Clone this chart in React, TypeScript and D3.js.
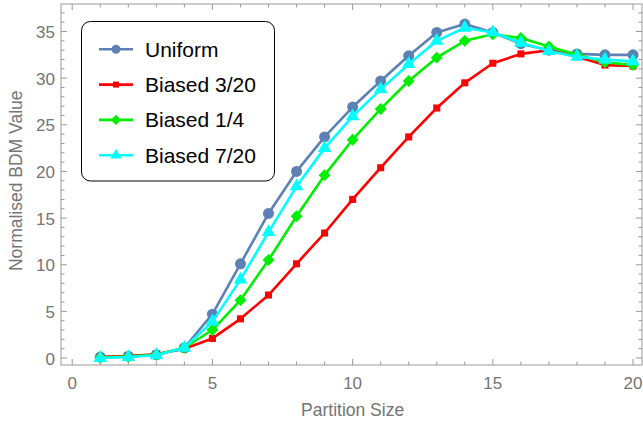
import React, { useEffect, useRef } from 'react';
import * as d3 from 'd3';

const partitionSizes = [1, 2, 3, 4, 5, 6, 7, 8, 9, 10, 11, 12, 13, 14, 15, 16, 17, 18, 19, 20];
const uniform = [0.1, 0.2, 0.35, 1.1, 4.7, 10.1, 15.5, 20.0, 23.7, 26.9, 29.7, 32.4, 34.9, 35.8, 34.9, 33.7, 33.0, 32.6, 32.5, 32.5];
const biased320 = [0.1, 0.2, 0.4, 1.0, 2.1, 4.2, 6.75, 10.1, 13.4, 17.0, 20.4, 23.7, 26.8, 29.5, 31.6, 32.6, 33.0, 32.3, 31.4, 31.3];
const biased14 = [0.05, 0.15, 0.35, 1.1, 3.0, 6.2, 10.5, 15.2, 19.6, 23.4, 26.7, 29.7, 32.2, 34.0, 34.7, 34.3, 33.4, 32.5, 31.7, 31.4];
const biased720 = [0.0, 0.1, 0.3, 1.1, 3.9, 8.4, 13.5, 18.4, 22.5, 25.9, 28.8, 31.5, 34.0, 35.4, 34.9, 33.8, 32.9, 32.3, 32.0, 31.8];
const seriesNames = ['Uniform', 'Biased 3/20', 'Biased 1/4', 'Biased 7/20'];
const xTicks = [0, 5, 10, 15, 20];
const yTicks = [0, 5, 10, 15, 20, 25, 30, 35];

const colors = ['#5E81B5', '#FF0000', '#00EE00', '#00FFFF'];
const shapes = [d3.symbolCircle, d3.symbolSquare, d3.symbolDiamond2, d3.symbolTriangle];
const sizes = [95, 50, 90, 80];
const legendSizes = [65, 36, 65, 55];

export default function App() {
  const ref = useRef<SVGSVGElement>(null);

  useEffect(() => {
    const frame = { left: 61, right: 642, top: 4, bottom: 365 };
    const svg = d3.select(ref.current);
    svg.selectAll('*').remove();

    const x = d3.scaleLinear().domain([-0.4, 20.32]).range([frame.left, frame.right]);
    const y = d3.scaleLinear().domain([-0.75, 37.95]).range([frame.bottom, frame.top]);
    const font = 'Liberation Sans, Arial, sans-serif';
    const gray = '#747474';

    // frame
    svg.append('rect')
      .attr('x', frame.left).attr('y', frame.top)
      .attr('width', frame.right - frame.left).attr('height', frame.bottom - frame.top)
      .attr('fill', 'none').attr('stroke', '#999').attr('stroke-width', 1);

    const ticks = svg.append('g').attr('stroke', '#999').attr('stroke-width', 1);
    d3.range(0, 21).forEach((v) => {
      const len = v % 5 === 0 ? 6 : 3.5;
      ticks.append('line').attr('x1', x(v)).attr('x2', x(v)).attr('y1', frame.bottom).attr('y2', frame.bottom - len);
      ticks.append('line').attr('x1', x(v)).attr('x2', x(v)).attr('y1', frame.top).attr('y2', frame.top + len);
    });
    d3.range(0, 38).forEach((v) => {
      const len = v % 5 === 0 ? 6 : 3.5;
      ticks.append('line').attr('y1', y(v)).attr('y2', y(v)).attr('x1', frame.left).attr('x2', frame.left + len);
      ticks.append('line').attr('y1', y(v)).attr('y2', y(v)).attr('x1', frame.right).attr('x2', frame.right - len);
    });

    svg.append('g').selectAll('text').data(xTicks).join('text')
      .attr('x', (d) => x(d)).attr('y', frame.bottom + 23.5)
      .attr('text-anchor', 'middle').attr('font-family', font).attr('font-size', 17)
      .attr('fill', gray).text((d) => d);

    svg.append('g').selectAll('text').data(yTicks).join('text')
      .attr('x', frame.left - 6).attr('y', (d) => y(d) + 6.5)
      .attr('text-anchor', 'end').attr('font-family', font).attr('font-size', 17)
      .attr('fill', gray).text((d) => d);

    svg.append('text')
      .attr('x', x(10)).attr('y', 416)
      .attr('text-anchor', 'middle').attr('font-family', font).attr('font-size', 17.5)
      .attr('fill', gray).text('Partition Size');

    svg.append('text')
      .attr('transform', `translate(22,${y(19)}) rotate(-90)`)
      .attr('text-anchor', 'middle').attr('font-family', font).attr('font-size', 17.5)
      .attr('fill', gray).text('Normalised BDM Value');

    const allSeries = [uniform, biased320, biased14, biased720];
    const line = d3.line<number>().x((d, i) => x(partitionSizes[i])).y((d) => y(d));

    allSeries.forEach((vals, k) => {
      const g = svg.append('g');
      g.append('path').attr('d', line(vals)).attr('fill', 'none')
        .attr('stroke', colors[k]).attr('stroke-width', 2.6).attr('stroke-linejoin', 'round');
      g.selectAll('path.m').data(vals).join('path').attr('class', 'm')
        .attr('transform', (d, i) => `translate(${x(partitionSizes[i])},${y(d)})`)
        .attr('d', d3.symbol().type(shapes[k]).size(sizes[k])())
        .attr('fill', colors[k]);
    });

    // legend
    const lg = svg.append('g');
    lg.append('rect').attr('x', 81.5).attr('y', 21.5).attr('width', 193).attr('height', 159.5)
      .attr('rx', 9).attr('fill', 'white').attr('stroke', 'black').attr('stroke-width', 1);
    seriesNames.forEach((name, k) => {
      const cy = 49.3 + k * 35.3;
      lg.append('line').attr('x1', 99).attr('x2', 133).attr('y1', cy).attr('y2', cy)
        .attr('stroke', colors[k]).attr('stroke-width', 2.6);
      lg.append('path').attr('transform', `translate(116,${cy})`)
        .attr('d', d3.symbol().type(shapes[k]).size(legendSizes[k])()).attr('fill', colors[k]);
      lg.append('text').attr('x', 145).attr('y', cy + 7.5)
        .attr('font-family', font).attr('font-size', 21).attr('fill', 'black').text(name);
    });
  }, []);

  return (
    <svg ref={ref} width={643} height={423} style={{ position: 'absolute', left: 0, top: 0, background: 'white' }} />
  );
}
